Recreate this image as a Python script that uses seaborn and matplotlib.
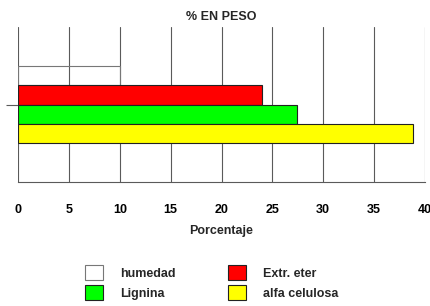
import matplotlib
matplotlib.use("Agg")
import matplotlib.pyplot as plt
from matplotlib.patches import Patch
import pandas as pd
import seaborn as sns

# data
series = ["humedad", "Extr. eter", "Lignina", "alfa celulosa"]
values = [10.0, 24.0, 27.4, 38.8]
colors = ["#FFFFFF", "#FF0000", "#00FF00", "#FFFF00"]
xticks = [0, 5, 10, 15, 20, 25, 30, 35, 40]

GRID = "#5a5a5a"
FONT = ["Liberation Sans", "DejaVu Sans"]
FS = 9

sns.set_theme(style="white")
plt.rcParams["font.family"] = FONT
plt.rcParams["font.weight"] = "bold"

df = pd.DataFrame({"grupo": [""] * len(series), "serie": series, "valor": values})

fig = plt.figure(figsize=(4.3, 3.06), dpi=100)
ax = fig.add_axes([18 / 430, 1 - 182 / 306, 407 / 430, 155 / 306])

sns.barplot(data=df, x="valor", y="grupo", hue="serie", hue_order=series,
            palette=colors, saturation=1, orient="h", width=0.5, dodge=True,
            edgecolor="#222222", linewidth=0.8, legend=False, ax=ax)

for p in ax.patches:
    fc = p.get_facecolor()
    if fc[0] > 0.95 and fc[1] > 0.95 and fc[2] > 0.95:
        # humedad bar: outline only, grid shows through
        p.set_facecolor((1, 1, 1, 0))
        p.set_edgecolor("#777777")

ax.set_xlim(0, 40)
ax.set_ylim(0.5, -0.5)
ax.set_xticks(xticks)
ax.set_xticklabels([str(t) for t in xticks], fontsize=FS, fontweight="bold", color="black")
ax.set_yticks([0])
ax.set_yticklabels([""])
ax.tick_params(axis="x", length=10, width=0.8, color=GRID, pad=6)
ax.tick_params(axis="y", length=9, width=0.8, color=GRID, left=True)
ax.set_axisbelow(True)
ax.grid(axis="x", color=GRID, linewidth=0.8)
ax.grid(axis="y", visible=False)
for side in ["top", "left", "right"]:
    ax.spines[side].set_visible(False)
ax.spines["bottom"].set_color(GRID)
ax.spines["bottom"].set_linewidth(0.8)

ax.set_ylabel("")
ax.set_xlabel("Porcentaje", fontsize=FS, fontweight="bold", labelpad=6)
ax.set_title("% EN PESO", fontsize=FS, fontweight="bold", pad=5)

order = [0, 2, 1, 3]
handles = []
for i in order:
    ec = "#777777" if i == 0 else "#222222"
    handles.append(Patch(facecolor=colors[i], edgecolor=ec, linewidth=0.8, label=series[i]))
fig.legend(handles=handles, ncol=2, loc="center", bbox_to_anchor=(212 / 430, 1 - 282.5 / 306),
           frameon=False, prop={"size": FS, "weight": "bold"},
           handlelength=1.44, handleheight=1.44, handletextpad=1.36,
           labelspacing=0.4, columnspacing=4.2)

fig.savefig("out.png", dpi=100)
